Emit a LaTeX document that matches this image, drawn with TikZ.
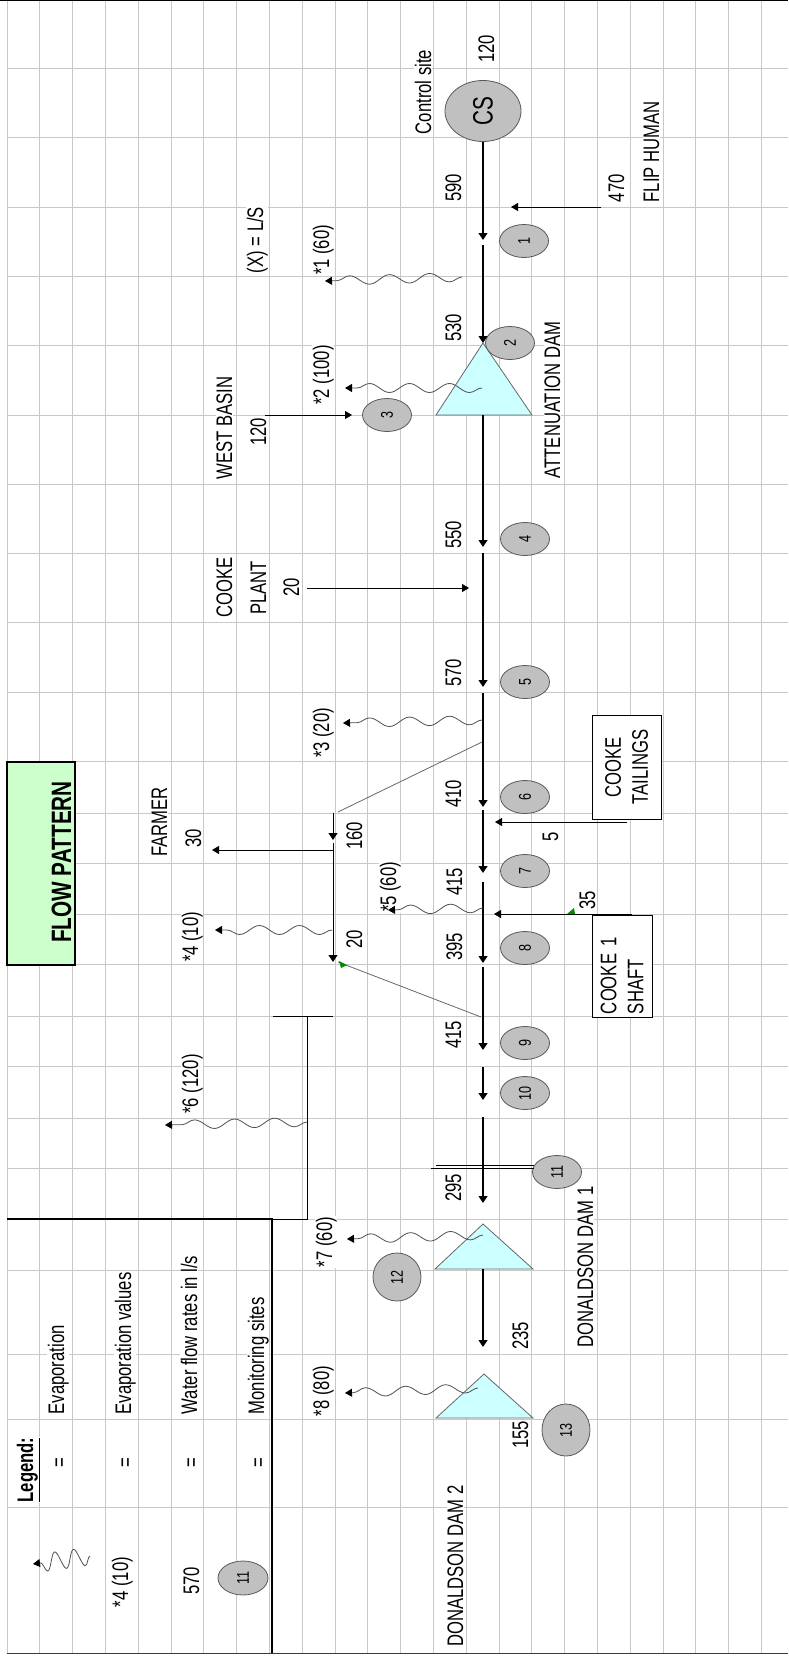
\documentclass[tikz,border=0pt]{standalone}
\usepackage{fontspec}
\setmainfont{Liberation Sans}[FakeStretch=0.74]
\usetikzlibrary{arrows.meta,shapes.geometric,decorations.pathmorphing}
\definecolor{gridgrey}{RGB}{200,200,200}
\definecolor{sitegrey}{RGB}{192,192,192}
\definecolor{damcyan}{RGB}{204,255,255}
\definecolor{titlegreen}{RGB}{204,255,204}
\definecolor{wavegrey}{RGB}{80,80,80}
\definecolor{pageblue}{RGB}{40,40,200}
\definecolor{markgreen}{RGB}{0,140,0}

\begin{document}
\begin{tikzpicture}[x=1pt,y=1pt,yscale=-1,xscale=1,
  gridline/.style={gridgrey, line width=0.9pt},
  txt/.style={rotate=90, anchor=base, inner sep=0.6pt, fill=white, font=\fontsize{22.5}{27}\selectfont},
  site/.style={ellipse, rotate=90, draw=black!65, fill=sitegrey, line width=0.8pt, inner sep=0pt, minimum width=33pt, minimum height=49pt, font=\fontsize{17}{17}\selectfont},
  dam/.style={draw=black!60, fill=damcyan, line width=0.8pt},
  flow/.style={line width=1.2pt, -{Triangle[length=7pt,width=9pt]}},
  feed/.style={line width=0.8pt, -{Triangle[length=7pt,width=8pt]}},
  evap/.style={wavegrey, line width=0.8pt, decorate, decoration={snake, amplitude=4.5pt, segment length=40pt, post length=3pt}, -{Triangle[black,length=7pt,width=8pt]}},
  link/.style={black!60, line width=0.8pt},
  srcbox/.style={rotate=90, draw, line width=0.8pt, fill=white, inner sep=3pt, font=\fontsize{22.5}{27}\selectfont}]
\useasboundingbox (0,0) rectangle (788,1659);

%Grid
\foreach \k in {0,...,23}
  \draw[gridline] ({7+32.8*\k},0) -- ({7+32.8*\k},1653);
\foreach \y in {68,137,207,276,345,415,484,553,622,692,761,813,863,914,964,1016,1066,1118,1168,1219,1270,1354,1419,1507}
  \draw[gridline] (7,\y) -- (788,\y);
\draw[line width=1.5pt] (0,0.75) -- (788,0.75);
\draw[pageblue, line width=1pt] (7,1653) -- (788,1653);

%Title
\draw[fill=titlegreen, line width=2pt] (7,762) rectangle (75,965);
\node[txt, fill=none, font=\bfseries\fontsize{28}{28}\selectfont] (title) at (71,862) {FLOW PATTERN};

%Legend
\draw[line width=2pt] (7,1219) -- (272,1219) -- (272,1653);
\node[txt, font=\bfseries\fontsize{22.5}{27}\selectfont] (legend) at (33,1470) {\underline{Legend:}};
\node[txt, anchor=center, inner sep=0pt] (eq1) at (61,1463) {=};
\node[txt, anchor=center, inner sep=0pt] (eq2) at (127,1463) {=};
\node[txt, anchor=center, inner sep=0pt] (eq3) at (193,1463) {=};
\node[txt, anchor=center, inner sep=0pt] (eq4) at (260,1463) {=};
\node[txt, anchor=base west] (lgevap) at (64,1415) {Evaporation};
\node[txt, anchor=base west] (lgval) at (131,1415) {Evaporation values};
\node[txt, anchor=base west] (lgrate) at (197,1415) {Water flow rates in l/s};
\node[txt, anchor=base west] (lgsite) at (264,1415) {Monitoring sites};
\node[txt] (lgv) at (128,1582) {*4 (10)};
\node[txt] (lgq) at (199,1581) {570};
\node[site, minimum width=34pt, minimum height=50pt] (lgs) at (243,1578) {11};
\coordinate (lgw0) at (90,1556);
\coordinate (lgw1) at (33,1564);
\draw[evap, decoration={snake, amplitude=9pt, segment length=19pt, post length=2pt}] (lgw0) -- (lgw1);

%Labels
\node[txt] (ctl) at (431,92) {Control site};
\node[txt] (q0) at (494,49) {120};
\node[txt] (q1) at (461,188) {590};
\node[txt] (q2) at (461,328) {530};
\node[txt, anchor=base west] (qflip) at (624,203) {470};
\node[txt, anchor=base west] (flip) at (659,203) {FLIP HUMAN};
\node[txt] (unit) at (263,240) {(X) = L/S};
\node[txt] (v1) at (329,250) {*1 (60)};
\node[txt] (v2) at (329,375) {*2 (100)};
\node[txt] (west) at (232,428) {WEST BASIN};
\node[txt] (qwest) at (266,432) {120};
\node[txt] (plant1) at (232,587) {COOKE};
\node[txt] (plant2) at (266,588) {PLANT};
\node[txt] (qplant) at (299,587) {20};
\node[txt] (attname) at (560,400) {ATTENUATION DAM};
\node[txt] (q3) at (461,535) {550};
\node[txt] (q4) at (461,673) {570};
\node[txt] (q5) at (461,794) {410};
\node[txt] (v3) at (329,733) {*3 (20)};
\node[txt] (farmer) at (167,822) {FARMER};
\node[txt] (qfarm) at (201,838) {30};
\node[txt] (qbr1) at (362,836) {160};
\node[txt] (qbr2) at (362,939) {20};
\node[txt] (v4) at (198,937) {*4 (10)};
\node[txt] (v5) at (396,887) {*5 (60)};
\node[txt] (q6) at (462,882) {415};
\node[txt] (q7) at (462,947) {395};
\node[txt] (q8) at (461,1035) {415};
\node[txt] (q9) at (461,1188) {295};
\node[txt] (qtail) at (558,837) {5};
\node[txt] (qshaft) at (595,900) {35};
\node[txt] (v6) at (198,1084) {*6 (120)};
\node[txt] (dam1name) at (593,1267) {DONALDSON DAM 1};
\node[txt] (v7) at (332,1242) {*7 (60)};
\node[txt] (q10) at (528,1336) {235};
\node[txt] (v8) at (329,1391) {*8 (80)};
\node[txt] (q11) at (528,1435) {155};
\node[txt] (dam2name) at (463,1566) {DONALDSON DAM 2};

%Source boxes
\node[srcbox, align=center, text width=98pt, minimum height=69pt] (tail) at (626.5,767) {COOKE\\TAILINGS};
\node[srcbox, align=left, text width=96pt, minimum height=60pt] (shaft) at (622,966) {COOKE 1\\SHAFT};

%Dams
\coordinate (att) at (483,343);
\coordinate (attb) at (483,415);
\coordinate (dam1) at (483,1224);
\coordinate (dam1b) at (483,1269);
\coordinate (dam2) at (484,1374);
\draw[dam] (att) -- (436,415) -- (532,415) -- cycle;
\draw[dam] (dam1) -- (435,1269) -- (533,1269) -- cycle;
\draw[dam] (dam2) -- (436,1418) -- (533,1418) -- cycle;

%Monitoring sites
\node[site, minimum width=61pt, minimum height=76pt, font=\fontsize{28}{28}\selectfont] (cs) at (483,111) {CS};
\node[site] (s1) at (524,241) {1};
\node[site] (s2) at (510,343) {2};
\node[site] (s3) at (387,415) {3};
\node[site] (s4) at (525,539) {4};
\node[site] (s5) at (525,682) {5};
\node[site] (s6) at (525,797) {6};
\node[site] (s7) at (525,871) {7};
\node[site] (s8) at (525,948) {8};
\node[site] (s9) at (525,1043) {9};
\node[site] (s10) at (525,1093) {10};
\node[site] (s11) at (557,1172) {11};
\node[site, minimum width=48pt, minimum height=48pt] (s12) at (397,1277) {12};
\node[site, minimum width=52pt, minimum height=48pt] (s13) at (566,1430) {13};

%Main channel
\coordinate (f1) at (483,240);
\coordinate (f2) at (483,245);
\coordinate (f3) at (483,547);
\coordinate (f4) at (483,553);
\coordinate (f5) at (483,687);
\coordinate (f6) at (483,693);
\coordinate (f7) at (483,807);
\coordinate (f8) at (483,810);
\coordinate (f9) at (483,873);
\coordinate (f10) at (483,882);
\coordinate (f11) at (483,963);
\coordinate (f12) at (483,967);
\coordinate (f13) at (483,1050);
\coordinate (f14) at (483,1067);
\coordinate (f15) at (483,1100);
\coordinate (f16) at (483,1117);
\coordinate (f17) at (483,1203);
\coordinate (f18) at (483,1347);
\draw[flow] (cs) -- (f1);
\draw[flow] (f2) -- (att);
\draw[flow] (attb) -- (f3);
\draw[flow] (f4) -- (f5);
\draw[flow] (f6) -- (f7);
\draw[flow] (f8) -- (f9);
\draw[flow] (f10) -- (f11);
\draw[flow] (f12) -- (f13);
\draw[flow] (f14) -- (f15);
\draw[flow] (f16) -- (f17);
\draw[flow] (dam1b) -- (f18);

%Inflows
\coordinate (flipa) at (601,207);
\coordinate (flipb) at (511,207);
\coordinate (westa) at (265,415);
\coordinate (westb) at (352,415);
\coordinate (planta) at (307,588);
\coordinate (plantb) at (469,588);
\coordinate (taila) at (627,822);
\coordinate (tailb) at (495,822);
\coordinate (shafta) at (632,914);
\coordinate (shaftb) at (494,914);
\draw[feed] (flipa) -- (flipb);
\draw[feed] (westa) -- (westb);
\draw[feed] (planta) -- (plantb);
\draw[feed] (taila) -- (tailb);
\draw[feed] (shafta) -- (shaftb);

%Farmer branch
\coordinate (br1) at (482,742);
\coordinate (fa0) at (338,812);
\coordinate (fa1) at (333,813);
\coordinate (fa2) at (333,840);
\coordinate (fa3) at (333,843);
\coordinate (fa4) at (333,962);
\coordinate (fa5) at (333,850);
\coordinate (farm) at (212,850);
\coordinate (fa6) at (338,962);
\coordinate (br2) at (481,1017);
\draw[link] (br1) -- (fa0);
\draw[flow, line width=1pt] (fa1) -- (fa2);
\draw[flow, line width=1pt] (fa3) -- (fa4);
\draw[feed] (fa5) -- (farm);
\draw[link] (fa6) -- (br2);
\fill[markgreen] (339,961) -- (347,965) -- (341,968) -- cycle;
\fill[markgreen] (567,914) -- (574,908) -- (575,914) -- cycle;

%Donaldson works
\draw[line width=0.8pt] (273,1016) -- (333,1016);
\draw[line width=0.8pt] (307,1016) -- (307,1219) -- (272,1219);
\draw[line width=0.8pt] (436,1165) -- (534,1165);
\draw[line width=0.8pt] (431,1168) -- (534,1168);

%Evaporation
\coordinate (e1s) at (462,277);
\coordinate (e1) at (325,281);
\coordinate (e2s) at (482,388);
\coordinate (e2) at (345,388);
\coordinate (e3s) at (482,720);
\coordinate (e3) at (343,723);
\coordinate (e4s) at (332,930);
\coordinate (e4) at (215,930);
\coordinate (e5s) at (483,908);
\coordinate (e5) at (388,910);
\coordinate (e6s) at (307,1122);
\coordinate (e6) at (165,1125);
\coordinate (e7s) at (483,1235);
\coordinate (e7) at (347,1239);
\coordinate (e8s) at (478,1388);
\coordinate (e8) at (345,1393);
\draw[evap] (e1s) -- (e1);
\draw[evap] (e2s) -- (e2);
\draw[evap] (e3s) -- (e3);
\draw[evap] (e4s) -- (e4);
\draw[evap] (e5s) -- (e5);
\draw[evap] (e6s) -- (e6);
\draw[evap] (e7s) -- (e7);
\draw[evap] (e8s) -- (e8);

\end{tikzpicture}
\end{document}
